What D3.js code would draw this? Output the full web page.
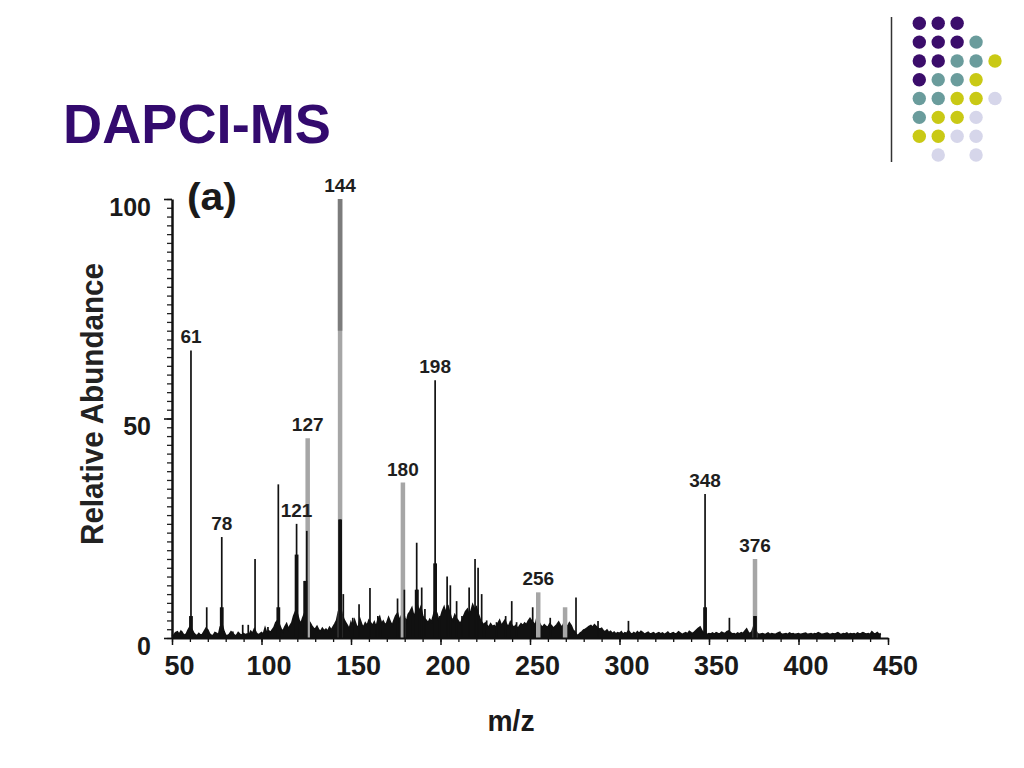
<!DOCTYPE html>
<html><head><meta charset="utf-8">
<script src="https://cdn.jsdelivr.net/npm/d3@7"></script>
<style>
body{margin:0;background:#fff;}
svg{display:block;font-family:Arial,"Liberation Sans",sans-serif;}
</style>
</head><body><svg id="c" width="1024" height="768"></svg>
<script>
// ---------- data ----------
const title = "DAPCI-MS";
const panelLabel = "(a)";
const xTitle = "m/z";
const yTitle = "Relative Abundance";
const xTicks = [50,100,150,200,250,300,350,400,450];
const yTicks = [0,50,100];

// black stick peaks
const blackMz    = [55.4,60.6,69.4,77.8,84,89.5,92.6,96.4,103.6,109.4,119.6,124,125.3,143.9,145.7,151,154.5,160.6,164,165,166.5,176,179.8,184,186.7,187.2,189.5,191.3,197,199.6,203.7,205.5,209,212,216,219.3,221,223,225.8,231.3,236.4,239.8,242.5,251.5,261.3,275.7,288,305,347.8,361.4,375.7,389.6];
const blackAbund = [1.5,65.5,7,23,1.5,3,3,18,2.5,35,26,13,24.4,27,10,4.6,7.7,11.4,3,5,4,9,11,6.6,21.7,11,11.5,6.6,58.7,5,14,12,8.4,5,11.5,18,16,10,4,3.6,5,8.4,3.6,7,4.6,9.2,3.9,3.9,32.8,4.6,5,1.5];
// thick black bases of peak clusters
const clusterMz    = [60.6,77.8,109.4,119.6,124.5,143.9,186.7,197,347.8,375.7];
const clusterAbund = [5,7,7,19,13,27,11,17,7,5];
// gray stick peaks
const grayMz    = [125.8,143.9,179,254.6,269.6,375.7];
const grayAbund = [45.5,100,35.4,10.4,7,18];
// labelled peaks
const labelMz    = [60.6,77.8,119.6,125.8,143.9,179,197,254.6,347.8,375.7];
const labelAbund = [65.5,23,26,45.5,100,35.4,58.7,10.4,32.8,18];
const labelText  = ["61","78","121","127","144","180","198","256","348","376"];

// baseline chemical noise, one value per m/z starting at 50
const noiseStart = 50;
const noiseAbund = [
0.4,0.6,1.2,1.4,0.8,1.5,1.0,0.6,0.9,1.8,
2.5,2.0,1.2,0.7,0.5,1.0,0.6,0.8,1.5,2.2,
1.8,0.9,0.6,0.5,1.2,1.0,0.7,2.5,3.0,1.5,
0.6,0.5,0.8,1.4,1.0,0.6,0.5,1.2,0.8,0.6,
1.0,0.7,0.9,0.6,1.5,1.0,2.0,1.2,0.7,0.9,
1.2,0.8,2.2,1.0,1.6,1.2,1.8,2.4,3.5,4.0,
3.0,2.0,1.5,2.5,3.2,2.0,2.8,3.5,5.0,6.0,
5.5,4.0,3.2,4.5,5.5,6.5,4.0,3.5,2.8,2.2,
2.0,2.6,1.8,1.5,2.2,1.6,2.0,1.5,2.4,1.8,
2.5,3.2,4.0,6.0,7.0,5.5,4.2,3.5,2.8,2.0,
3.5,2.4,4.0,2.8,2.2,4.2,3.0,2.4,3.4,2.8,
4.0,3.4,2.8,3.6,2.4,4.0,4.8,3.2,3.8,3.0,
3.4,4.6,3.6,2.8,4.0,5.0,5.6,4.0,4.8,6.0,
4.6,3.6,5.4,6.0,6.8,5.0,5.6,7.5,6.0,7.0,
5.0,4.4,4.0,3.4,4.2,3.6,5.0,6.5,5.5,4.0,
4.6,6.0,7.0,5.5,7.5,6.0,4.5,4.0,5.2,4.4,
3.8,3.2,4.0,5.0,6.0,6.5,5.0,6.0,7.5,6.5,
7.0,5.5,4.4,3.6,3.0,3.4,2.8,2.4,3.2,2.6,
2.8,2.4,3.2,4.0,2.8,3.4,4.0,3.0,2.6,3.6,
2.8,2.4,2.8,2.2,2.6,3.2,2.8,3.4,3.0,3.8,
4.4,3.8,3.4,2.8,4.8,3.6,2.8,2.4,3.0,2.6,
2.4,3.2,2.8,2.2,2.6,3.0,3.6,2.8,2.4,3.4,
3.0,2.6,3.4,2.8,1.8,1.4,0.7,0.6,1.1,1.4,
1.8,2.0,2.3,2.6,2.8,2.4,3.0,2.6,2.2,2.0,
2.2,1.6,1.4,1.8,1.2,1.5,1.0,1.3,0.9,1.2,
1.0,1.4,0.8,1.2,1.0,1.6,1.1,0.8,1.2,0.9,
1.4,1.0,1.5,1.2,0.8,1.1,1.3,0.9,1.0,1.2,
0.8,1.0,1.2,0.9,1.1,0.8,1.0,1.3,0.9,1.0,
1.2,0.9,1.0,1.4,1.1,0.8,1.0,1.2,0.9,1.5,
1.2,1.0,1.4,1.8,2.2,2.5,1.6,1.2,1.0,0.8,
1.0,0.9,1.1,0.8,1.2,1.0,0.9,1.3,1.1,1.0,
1.4,1.6,1.2,0.9,1.0,0.8,1.1,0.9,1.2,1.0,
1.5,2.0,1.2,1.0,1.4,2.6,1.8,1.0,0.8,0.9,
1.0,0.8,0.9,1.1,0.8,1.0,0.9,0.8,1.0,1.2,
1.0,0.8,0.9,1.0,0.8,1.1,0.9,1.0,0.8,0.9,
1.0,0.8,0.9,1.0,1.1,0.8,0.9,1.0,0.8,1.0,
0.9,1.2,1.0,0.8,0.9,1.0,1.1,0.9,0.8,1.0,
0.9,1.0,1.2,0.9,0.8,1.0,0.9,1.1,0.8,1.0,
0.9,1.0,0.8,1.1,0.9,1.0,1.2,1.0,0.9,1.0,
0.8,1.4,1.0,0.9,1.2,0.8,1.0];

// decorative dot grid of the slide template
const dotRows = ["PPP","PPPT","PPTTY","PTTY","TTYYL","TYYL","YYLL",".L.L"];

// ---------- drawing ----------
const svg = d3.select("#c");
svg.append("rect").attr("width",1024).attr("height",768).attr("fill","#fff");

const x = d3.scaleLinear().domain([50,450]).range([172,888]);
const y = d3.scaleLinear().domain([0,100]).range([638,199]);

// slide decoration
const dotColor = {P:"#3b0d6b",T:"#6a9c9c",Y:"#c9c915",L:"#d6d6ea"};
const dcx = d3.scaleLinear().domain([0,4]).range([919.3,995]);
const dcy = d3.scaleLinear().domain([0,7]).range([23.3,155]);
const dots = [];
dotRows.forEach((row,r)=>row.split("").forEach((ch,c)=>{ if(dotColor[ch]) dots.push({r,c,ch}); }));
svg.append("g").selectAll("circle").data(dots).join("circle")
  .attr("cx",d=>dcx(d.c)).attr("cy",d=>dcy(d.r)).attr("r",6.7)
  .attr("fill",d=>dotColor[d.ch]);
svg.append("line").attr("x1",891.5).attr("x2",891.5).attr("y1",17).attr("y2",162)
  .attr("stroke","#333").attr("stroke-width",1.5);

// title
svg.append("text").attr("x",63).attr("y",143).text(title)
  .attr("font-size",56).attr("font-weight","bold").attr("fill","#330a6e")
  .attr("textLength",268).attr("lengthAdjust","spacingAndGlyphs");

// noise
const noise = noiseAbund.map((v,i)=>({m:noiseStart+i,a:v}));
svg.append("path").datum(noise)
  .attr("d",d3.area().x(d=>x(d.m)).y0(y(0)).y1(d=>y(d.a)))
  .attr("fill","#111");
svg.append("path").datum(noise)
  .attr("d",d3.line().x(d=>x(d.m)).y(d=>y(d.a)))
  .attr("fill","none").attr("stroke","#111").attr("stroke-width",1.8);

// gray peaks
const grays = grayMz.map((m,i)=>({m,a:grayAbund[i]}));
svg.append("g").selectAll("line").data(grays).join("line")
  .attr("x1",d=>x(d.m)).attr("x2",d=>x(d.m))
  .attr("y1",y(0)).attr("y2",d=>y(d.a))
  .attr("stroke","#a6a6a6").attr("stroke-width",4.5);
// darker upper part of the base peak
const basePeak = grays.filter(d=>d.a>=100);
svg.append("g").selectAll("line").data(basePeak).join("line")
  .attr("x1",d=>x(d.m)).attr("x2",d=>x(d.m))
  .attr("y1",y(70)).attr("y2",d=>y(d.a))
  .attr("stroke","#7c7c7c").attr("stroke-width",4.5);

// black peaks
const blacks = blackMz.map((m,i)=>({m,a:blackAbund[i]}));
svg.append("g").selectAll("line").data(blacks).join("line")
  .attr("x1",d=>x(d.m)).attr("x2",d=>x(d.m))
  .attr("y1",y(0)).attr("y2",d=>y(d.a))
  .attr("stroke","#111").attr("stroke-width",1.7);
const clusters = clusterMz.map((m,i)=>({m,a:clusterAbund[i]}));
svg.append("g").selectAll("line").data(clusters).join("line")
  .attr("x1",d=>x(d.m)).attr("x2",d=>x(d.m))
  .attr("y1",y(0)).attr("y2",d=>y(d.a))
  .attr("stroke","#111").attr("stroke-width",3.8);

// peak labels
const labels = labelMz.map((m,i)=>({m,a:labelAbund[i],t:labelText[i]}));
svg.append("g").selectAll("text").data(labels).join("text")
  .attr("x",d=>x(d.m)).attr("y",d=>y(d.a)-7)
  .attr("text-anchor","middle").attr("font-size",19).attr("font-weight","bold")
  .attr("fill","#1e1e1e").text(d=>d.t);

// x axis
const gx = svg.append("g").attr("transform",`translate(0,${y(0)})`);
gx.call(d3.axisBottom(x).tickValues(d3.range(50,451,10)).tickSize(4).tickFormat(""))
  .call(g=>g.select(".domain").remove());
gx.selectAll("line").attr("stroke","#111").attr("stroke-width",1.3);
const gx2 = svg.append("g").attr("transform",`translate(0,${y(0)})`);
gx2.call(d3.axisBottom(x).tickValues(xTicks).tickSize(7).tickSizeOuter(0));
gx2.select(".domain").attr("stroke","#111").attr("stroke-width",2);
gx2.selectAll("line").attr("stroke","#111").attr("stroke-width",1.5);
gx2.selectAll("text").attr("dy",null).attr("y",37).attr("dx",7)
  .attr("font-size",27).attr("font-weight","bold").attr("fill","#1a1a1a")
  .attr("font-family","Arial, 'Liberation Sans', sans-serif");

// y axis
const gy = svg.append("g").attr("transform",`translate(${x(50)},0)`);
gy.call(d3.axisLeft(y).tickValues(d3.range(0,101,2)).tickSize(5).tickFormat(""))
  .call(g=>g.select(".domain").remove());
gy.selectAll("line").attr("stroke","#222").attr("stroke-width",1.3);
const gy2 = svg.append("g").attr("transform",`translate(${x(50)},0)`);
gy2.call(d3.axisLeft(y).tickValues(yTicks).tickSize(8).tickSizeOuter(0));
gy2.select(".domain").attr("stroke","#111").attr("stroke-width",2.5);
gy2.selectAll("line").attr("stroke","#111").attr("stroke-width",1.6);
gy2.selectAll("text").attr("dy",null).attr("y",16).attr("x",-21)
  .attr("font-size",25).attr("font-weight","bold").attr("fill","#1a1a1a")
  .attr("font-family","Arial, 'Liberation Sans', sans-serif");

// panel label and axis titles
svg.append("text").attr("x",187).attr("y",210).text(panelLabel)
  .attr("font-size",38).attr("font-weight","bold").attr("fill","#1a1a1a")
  .attr("textLength",50).attr("lengthAdjust","spacingAndGlyphs");
svg.append("text").attr("transform","translate(103,404) rotate(-90)")
  .attr("text-anchor","middle").text(yTitle)
  .attr("font-size",31).attr("font-weight","bold").attr("fill","#222")
  .attr("textLength",282).attr("lengthAdjust","spacingAndGlyphs");
svg.append("text").attr("x",511).attr("y",731).attr("text-anchor","middle").text(xTitle)
  .attr("font-size",29).attr("font-weight","bold").attr("fill","#1a1a1a")
  .attr("textLength",47).attr("lengthAdjust","spacingAndGlyphs");
</script>
</body></html>
